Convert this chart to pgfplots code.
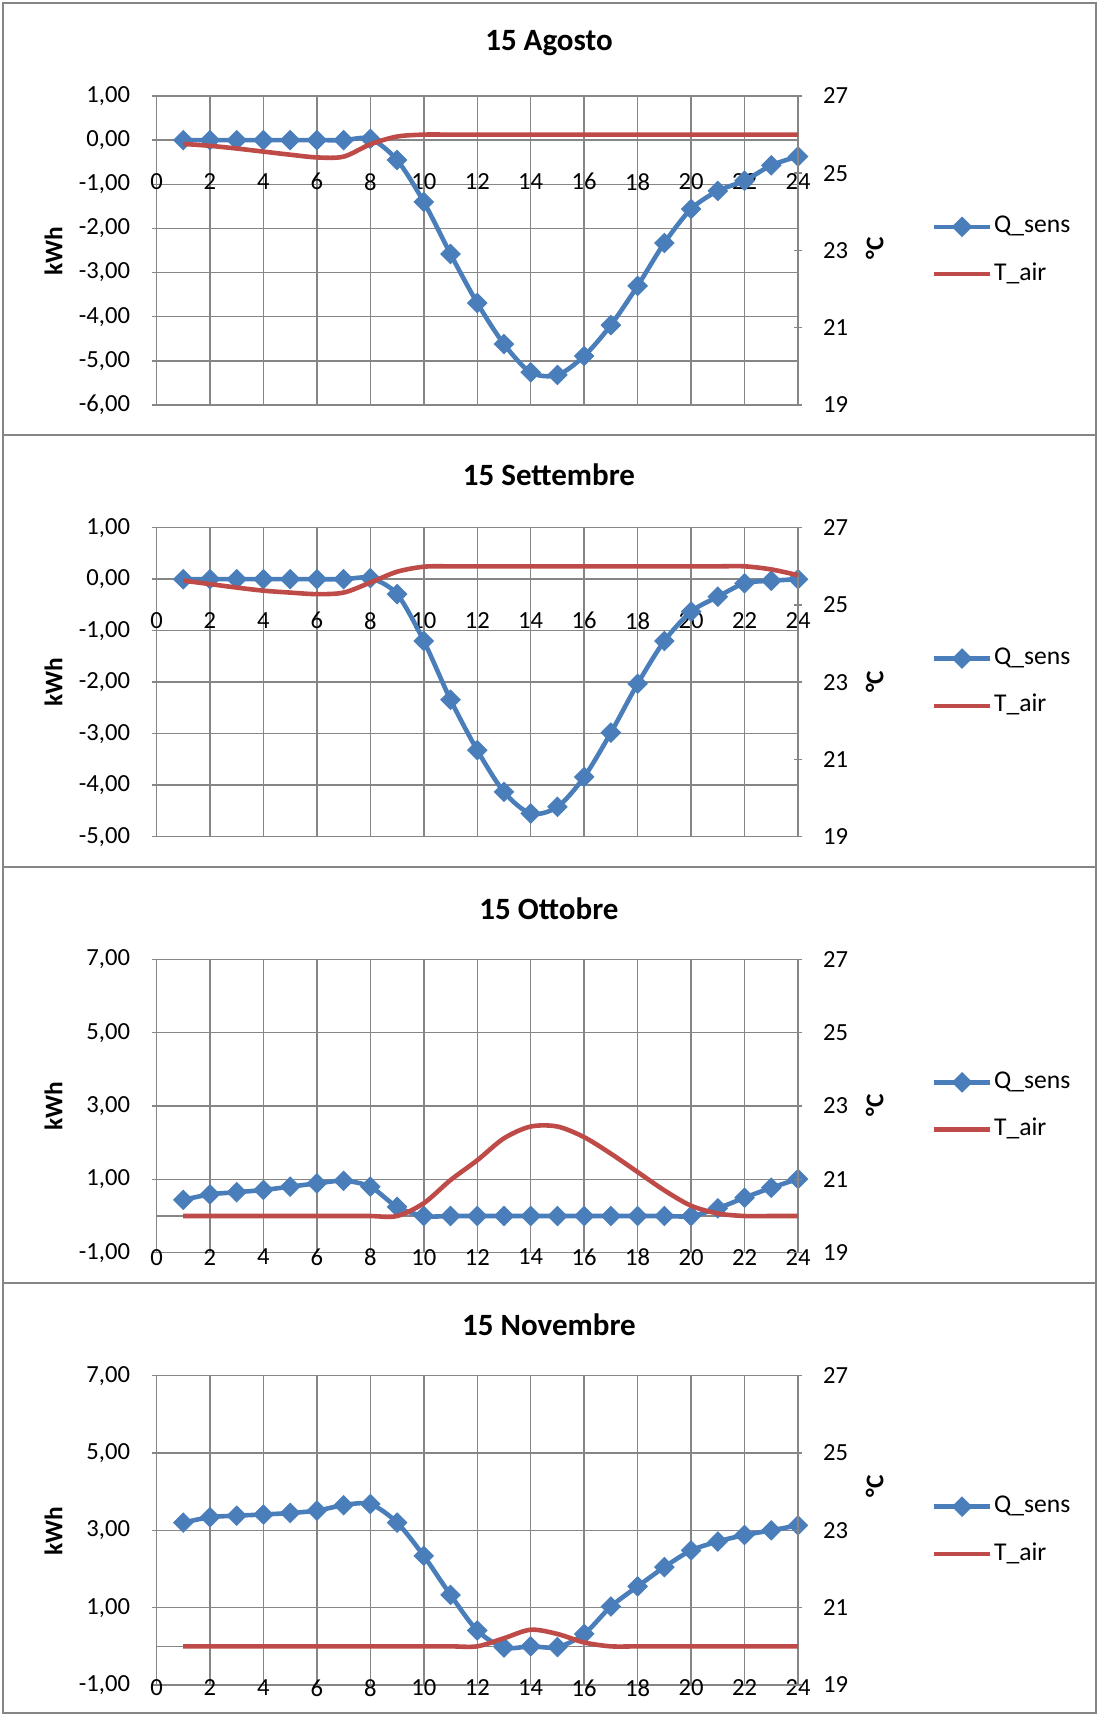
\documentclass[border=0pt]{standalone}
\usepackage{fontspec}
\setmainfont{Carlito}
\usepackage{pgfplots}
\pgfplotsset{compat=1.18}
\definecolor{qblue}{RGB}{74,126,187}
\definecolor{tred}{RGB}{190,75,72}
\definecolor{gridgray}{RGB}{134,134,134}
\newcommand{\tickfont}{\fontsize{12.3}{14}\selectfont}
\newcommand{\legfont}{\fontsize{12.8}{15}\selectfont}
\newcommand{\labfont}{\bfseries\fontsize{12.7}{15}\selectfont}
\newcommand{\titfont}{\bfseries\fontsize{15.5}{18}\selectfont}
\pgfplotsset{
  basecommon/.style={
    scale only axis, width=320.75pt, xmin=0, xmax=24, clip=false,
    /pgf/number format/assume math mode=true,
    tick label style={font=\tickfont, text=black},
    tick align=outside, major tick length=4pt,
    tick style={gridgray, line width=0.75pt},
    axis line style={gridgray, line width=0.75pt, -},
  },
  leftax/.style={basecommon,
    axis x line=middle, axis y line=left,
    every inner x axis line/.append style={-},
    every outer y axis line/.append style={-},
    xtick={0,2,...,24}, xtick style={draw=none},
    grid=major, grid style={gridgray, line width=0.75pt},
    hide obscured x ticks=false, hide obscured y ticks=false,
    xticklabel style={yshift=-11pt},
    yticklabel style={xshift=-7.7pt, /pgf/number format/.cd, fixed, fixed zerofill, precision=2, use comma},
  },
  rightax/.style={basecommon,
    axis x line=none, axis y line=right,
    every outer y axis line/.append style={-},
    ymin=19, ymax=27, ytick={19,21,...,27},
    yticklabel style={xshift=7pt},
    legend image code/.code={\draw[mark repeat=2,mark phase=2,##1] plot coordinates {(0pt,0pt) (13.85pt,0pt) (27.7pt,0pt)};},
    legend style={at={(axis description cs:1.209,0.5)}, anchor=west, draw=none, fill=none,
      inner sep=0pt, outer sep=0pt, font=\legfont, row sep=9.65pt,
      nodes={inner sep=1pt, text height=9pt, text depth=3pt}},
    legend cell align=left,
  },
  qs/.style={qblue, line width=2.3pt, smooth, mark=square*, mark size=3.4pt,
    mark options={rotate=45, solid, line width=0.5pt, fill=qblue, draw=qblue}},
  ta/.style={tred, line width=2.3pt, smooth, no marks},
}
\begin{document}
\begin{tikzpicture}
% borders
\draw[gridgray, line width=1pt] (1.5pt,640pt) rectangle (548pt,856pt);
\draw[gridgray, line width=1pt] (1.5pt,424pt) rectangle (548pt,640pt);
\draw[gridgray, line width=1pt] (1.5pt,216pt) rectangle (548pt,424pt);
\draw[gridgray, line width=1pt] (1.5pt,1pt) rectangle (548pt,216pt);

% ---------------- Chart 1 ----------------
\begin{axis}[leftax, at={(78.25pt,655pt)}, anchor=south west, height=154.5pt,
  ymin=-6, ymax=1, ytick={-6,-5,...,1}]
\addplot[qs] coordinates {(1,0)(2,0)(3,0)(4,0)(5,0)(6,0)(7,0)(8,0.03)(9,-0.45)(10,-1.40)(11,-2.58)(12,-3.69)(13,-4.62)(14,-5.26)(15,-5.32)(16,-4.89)(17,-4.19)(18,-3.30)(19,-2.33)(20,-1.56)(21,-1.15)(22,-0.92)(23,-0.57)(24,-0.37)};
\end{axis}
\begin{axis}[rightax, at={(78.25pt,655pt)}, anchor=south west, height=154.5pt]
\addlegendimage{qs}\addlegendentry{Q\_sens}
\addplot[ta] coordinates {(1,25.76)(2,25.71)(3,25.64)(4,25.56)(5,25.48)(6,25.41)(7,25.43)(8,25.75)(9,25.95)(10,26)(11,26)(12,26)(13,26)(14,26)(15,26)(16,26)(17,26)(18,26)(19,26)(20,26)(21,26)(22,26)(23,26)(24,26)};
\addlegendentry{T\_air}
\end{axis}
\node[font=\titfont] at (274.5pt,836pt) {15 Agosto};
\node[rotate=90, font=\labfont] at (26.7pt,732pt) {kWh};
\node[rotate=90, font=\labfont] at (437.3pt,733.5pt) {°C};

% ---------------- Chart 2 ----------------
\begin{axis}[leftax, at={(78.25pt,439.15pt)}, anchor=south west, height=154.5pt,
  ymin=-5, ymax=1, ytick={-5,-4,...,1}]
\addplot[qs] coordinates {(1,0)(2,0)(3,0)(4,0)(5,0)(6,0)(7,0)(8,0.02)(9,-0.29)(10,-1.20)(11,-2.34)(12,-3.32)(13,-4.13)(14,-4.55)(15,-4.42)(16,-3.84)(17,-2.98)(18,-2.03)(19,-1.20)(20,-0.63)(21,-0.34)(22,-0.08)(23,-0.03)(24,0)};
\end{axis}
\begin{axis}[rightax, at={(78.25pt,439.15pt)}, anchor=south west, height=154.5pt]
\addlegendimage{qs}\addlegendentry{Q\_sens}
\addplot[ta] coordinates {(1,25.63)(2,25.54)(3,25.45)(4,25.37)(5,25.32)(6,25.28)(7,25.32)(8,25.58)(9,25.86)(10,25.99)(11,26)(12,26)(13,26)(14,26)(15,26)(16,26)(17,26)(18,26)(19,26)(20,26)(21,26)(22,26)(23,25.92)(24,25.77)};
\addlegendentry{T\_air}
\end{axis}
\node[font=\titfont] at (274.5pt,620pt) {15 Settembre};
\node[rotate=90, font=\labfont] at (26.7pt,516.5pt) {kWh};
\node[rotate=90, font=\labfont] at (437.3pt,516.6pt) {°C};

% ---------------- Chart 3 ----------------
\begin{axis}[leftax, at={(78.25pt,231.15pt)}, anchor=south west, height=146.7pt,
  ymin=-1, ymax=7, ytick={-1,1,...,7}]
\addplot[qs] coordinates {(1,0.44)(2,0.59)(3,0.65)(4,0.71)(5,0.80)(6,0.89)(7,0.96)(8,0.80)(9,0.25)(10,0)(11,0)(12,0)(13,0)(14,0)(15,0)(16,0)(17,0)(18,0)(19,0)(20,0)(21,0.21)(22,0.50)(23,0.77)(24,1.01)};
\end{axis}
\begin{axis}[rightax, at={(78.25pt,231.15pt)}, anchor=south west, height=146.7pt]
\addlegendimage{qs}\addlegendentry{Q\_sens}
\addplot[ta] coordinates {(1,20)(2,20)(3,20)(4,20)(5,20)(6,20)(7,20)(8,20)(9,20)(10,20.35)(11,20.98)(12,21.52)(13,22.12)(14,22.44)(15,22.44)(16,22.15)(17,21.70)(18,21.20)(19,20.70)(20,20.28)(21,20.07)(22,20)(23,20)(24,20)};
\addlegendentry{T\_air}
\end{axis}
\node[font=\titfont] at (274.5pt,403.35pt) {15 Ottobre};
\node[rotate=90, font=\labfont] at (26.7pt,304.6pt) {kWh};
\node[rotate=90, font=\labfont] at (437.3pt,305pt) {°C};

% ---------------- Chart 4 ----------------
\begin{axis}[leftax, at={(78.25pt,15pt)}, anchor=south west, height=154.65pt,
  ymin=-1, ymax=7, ytick={-1,1,...,7}]
\addplot[qs] coordinates {(1,3.20)(2,3.34)(3,3.38)(4,3.41)(5,3.45)(6,3.51)(7,3.65)(8,3.68)(9,3.20)(10,2.34)(11,1.33)(12,0.41)(13,-0.03)(14,0)(15,-0.02)(16,0.32)(17,1.03)(18,1.55)(19,2.05)(20,2.48)(21,2.71)(22,2.88)(23,3.00)(24,3.13)};
\end{axis}
\begin{axis}[rightax, at={(78.25pt,15pt)}, anchor=south west, height=154.65pt]
\addlegendimage{qs}\addlegendentry{Q\_sens}
\addplot[ta] coordinates {(1,20)(2,20)(3,20)(4,20)(5,20)(6,20)(7,20)(8,20)(9,20)(10,20)(11,20)(12,20)(13,20.21)(14,20.43)(15,20.32)(16,20.10)(17,20)(18,20)(19,20)(20,20)(21,20)(22,20)(23,20)(24,20)};
\addlegendentry{T\_air}
\end{axis}
\node[font=\titfont] at (274.5pt,195pt) {15 Novembre};
\node[rotate=90, font=\labfont] at (26.7pt,92.1pt) {kWh};
\node[rotate=90, font=\labfont] at (437.3pt,114.5pt) {°C};

\pgfresetboundingbox
\path[use as bounding box] (0pt,0pt) rectangle (549pt,857.5pt);
\end{tikzpicture}
\end{document}
